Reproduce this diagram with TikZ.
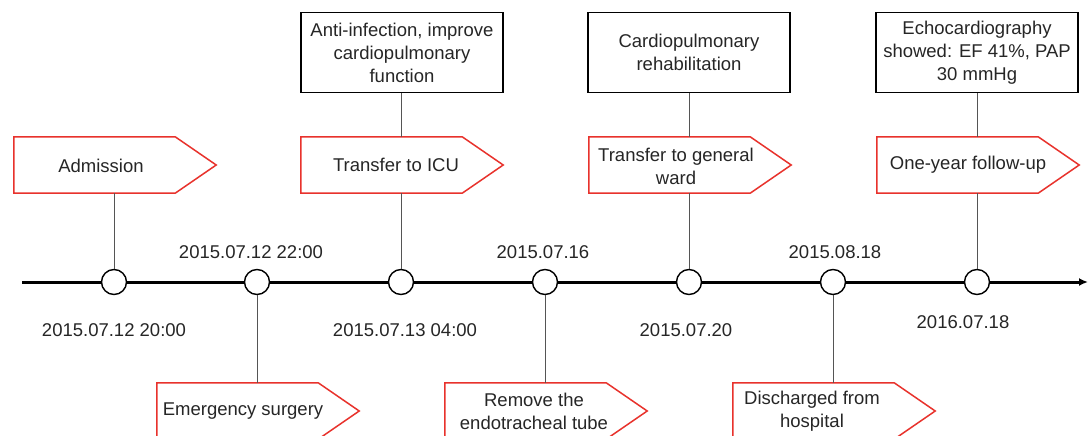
\documentclass[tikz,border=0pt]{standalone}
\usepackage{fontspec}
\setmainfont{Liberation Sans}
\usetikzlibrary{calc,arrows.meta}
\definecolor{redb}{RGB}{232,50,44}
\definecolor{txt}{RGB}{38,38,38}
\definecolor{conncol}{RGB}{85,85,85}
\begin{document}
\begin{tikzpicture}[x=1pt,y=-1pt,
  every node/.style={font=\fontsize{18.5}{23}\selectfont, text=txt},
  dot/.style={circle, draw=black, line width=1.4pt, fill=white, minimum size=25pt, inner sep=0pt},
  pbody/.style={draw=none, minimum width=161pt, minimum height=56pt, inner sep=0pt},
  topbox/.style={draw=black, line width=1.7pt, minimum width=202pt, minimum height=80pt, align=center, inner sep=2pt},
  lbl/.style={align=center, inner sep=0pt},
  conn/.style={draw=conncol, line width=0.9pt},
  pentline/.style={draw=redb, line width=1.5pt, line join=miter},
  tline/.style={draw=black, line width=3pt, -{Latex[length=9pt,width=8pt]}},
]
\clip (0,0) rectangle (1088,436);
\fill[white] (0,0) rectangle (1088,436);

% timeline
\coordinate (ts) at (22,282);
\coordinate (te) at (1088,282);
\draw[tline] (ts) -- (te);

% circles
\foreach \i/\x in {1/114,2/257,3/401,4/545,5/689,6/833,7/977}
  \node[dot] (c\i) at (\x,282) {};

% pentagon bodies (upper)
\node[pbody] (p1) at (94.5,165) {};
\node[pbody] (p3) at (381.5,165) {};
\node[pbody] (p5) at (669.5,165) {};
\node[pbody] (p7) at (957.5,165) {};
% pentagon bodies (lower)
\node[pbody] (p2) at (237.5,411) {};
\node[pbody] (p4) at (525.5,411) {};
\node[pbody] (p6) at (813.5,411) {};

\foreach \p in {p1,p2,p3,p4,p5,p6,p7}
  \draw[pentline] (\p.north west) -- (\p.north east) -- ($(\p.east)+(41,0)$) -- (\p.south east) -- (\p.south west) -- cycle;

% pentagon texts
\node[lbl] (t1) at (101,166) {Admission};
\node[lbl] (t3) at (396,165) {Transfer to ICU};
\node[lbl] (t5) at (676,166) {Transfer to general\\ward};
\node[lbl] (t7) at (968,165) {One-year follow-up};
\node[lbl] (t2) at (243,411) {Emergency surgery};
\node[lbl] (t4) at (534,411) {Remove the\\endotracheal tube};
\node[lbl] (t6) at (812,411) {Discharged from\\hospital};

% top boxes
\node[topbox] (b3) at (402,52.5) {Anti-infection, improve\\cardiopulmonary\\function};
\node[topbox] (b5) at (689,52.5) {Cardiopulmonary\\rehabilitation};
\node[topbox] (b7) at (977,52.5) {Echocardiography\\showed: EF 41\%, PAP\\30 mmHg};

% connectors
\draw[conn] (c1 |- p1.south) -- (c1.north);
\draw[conn] (c3 |- p3.south) -- (c3.north);
\draw[conn] (c5 |- p5.south) -- (c5.north);
\draw[conn] (c7 |- p7.south) -- (c7.north);
\draw[conn] (c2.south) -- (c2 |- p2.north);
\draw[conn] (c4.south) -- (c4 |- p4.north);
\draw[conn] (c6.south) -- (c6 |- p6.north);
\draw[conn] (c3 |- b3.south) -- (c3 |- p3.north);
\draw[conn] (c5 |- b5.south) -- (c5 |- p5.north);
\draw[conn] (c7 |- b7.south) -- (c7 |- p7.north);

% dates
\node[lbl] (d1) at (114,330) {2015.07.12 20:00};
\node[lbl] (d2) at (251,252) {2015.07.12 22:00};
\node[lbl] (d3) at (405,330) {2015.07.13 04:00};
\node[lbl] (d4) at (543,252) {2015.07.16};
\node[lbl] (d5) at (686,330) {2015.07.20};
\node[lbl] (d6) at (835,252) {2015.08.18};
\node[lbl] (d7) at (963,322) {2016.07.18};
\end{tikzpicture}
\end{document}
